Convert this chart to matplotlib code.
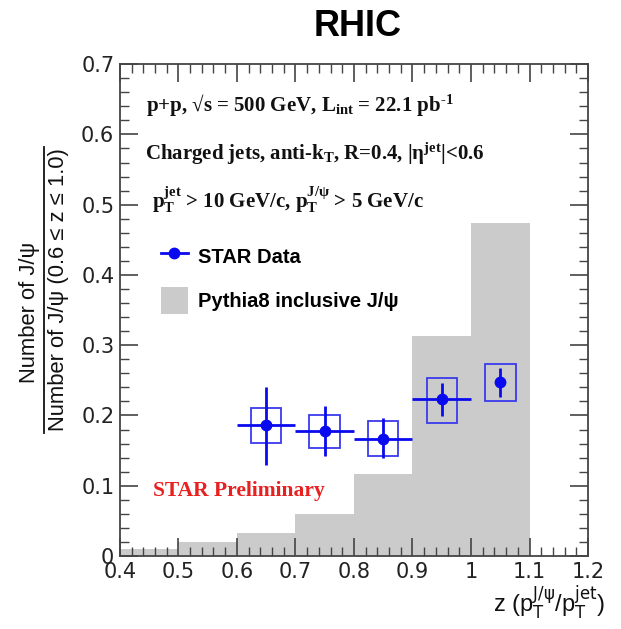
import numpy as np
import matplotlib
matplotlib.use("Agg")
import matplotlib.pyplot as plt
from matplotlib.patches import Rectangle
from matplotlib.lines import Line2D
from matplotlib.ticker import MultipleLocator, FuncFormatter

plt.rcParams['mathtext.fontset'] = 'custom'
plt.rcParams['mathtext.rm'] = 'Liberation Serif:bold'
plt.rcParams['mathtext.it'] = 'Liberation Serif:italic:bold'
plt.rcParams['mathtext.bf'] = 'Liberation Serif:bold'

# pythia8 histogram (bin edges and contents)
pythia_edges = [0.4, 0.5, 0.6, 0.7, 0.8, 0.9, 1.0, 1.1]
pythia_vals = [0.010, 0.020, 0.033, 0.060, 0.117, 0.313, 0.474]

# STAR data
z_pts = [0.65, 0.75, 0.85, 0.95, 1.05]
z_err = [0.05, 0.05, 0.05, 0.05, 0.0]
ratio = [0.186, 0.178, 0.167, 0.223, 0.247]
stat_lo = [0.130, 0.142, 0.139, 0.199, 0.227]
stat_hi = [0.240, 0.213, 0.196, 0.246, 0.267]
sys_lo = [0.161, 0.154, 0.142, 0.190, 0.220]
sys_hi = [0.211, 0.201, 0.192, 0.254, 0.274]

x_ticks = [0.4, 0.5, 0.6, 0.7, 0.8, 0.9, 1.0, 1.1, 1.2]
y_ticks = [0, 0.1, 0.2, 0.3, 0.4, 0.5, 0.6, 0.7]

blue = '#0a0af0'
box_blue = '#3a3aee'
gray = '#cbcbcb'
axis_col = '#444444'

fig = plt.figure(figsize=(6.21, 6.29), dpi=100)
ax = fig.add_axes([0.193, 0.116, 0.754, 0.782])

# histogram
ax.stairs(pythia_vals, pythia_edges, fill=True, color=gray, lw=0)

# systematic boxes
for x, lo, hi in zip(z_pts, sys_lo, sys_hi):
    ax.add_patch(Rectangle((x - 0.026, lo), 0.052, hi - lo, fill=False,
                           edgecolor=box_blue, lw=1.3, zorder=3))

yerr = [np.array(ratio) - np.array(stat_lo), np.array(stat_hi) - np.array(ratio)]
ax.errorbar(z_pts, ratio, xerr=z_err, yerr=yerr, fmt='o', color=blue,
            ms=7.5, lw=2.0, capsize=0, zorder=4)

ax.set_xlim(0.4, 1.2)
ax.set_ylim(0, 0.7)
ax.set_xticks(x_ticks)
ax.set_yticks(y_ticks)
ax.xaxis.set_minor_locator(MultipleLocator(0.02))
ax.yaxis.set_minor_locator(MultipleLocator(0.02))
ax.xaxis.set_major_formatter(FuncFormatter(lambda v, p: '%g' % round(v, 2)))
ax.yaxis.set_major_formatter(FuncFormatter(lambda v, p: '%g' % round(v, 2)))
ax.tick_params(which='both', direction='in', top=True, right=True,
               color=axis_col, labelsize=15, labelcolor='#222222')
ax.tick_params(which='major', length=13, width=1.2, pad=4)
ax.tick_params(which='minor', length=6.5, width=1.0)
for s in ax.spines.values():
    s.set_color(axis_col)
    s.set_linewidth(1.3)

# legend
handles = [Line2D([], [], color=blue, marker='o', ms=7.5, lw=2.0),
           Rectangle((0, 0), 1, 1, facecolor=gray, edgecolor='none')]
ax.legend(handles, ['STAR Data', 'Pythia8 inclusive J/ψ'], loc='upper left',
          bbox_to_anchor=(0.05, 0.674), frameon=False, handlelength=1.3,
          handleheight=1.7, labelspacing=0.85, handletextpad=0.5,
          prop={'family': 'Liberation Sans', 'weight': 'bold', 'size': 14.5})

# annotations
tkw = dict(transform=ax.transAxes, fontsize=15, family='Liberation Serif',
           fontweight='bold', color='#111111')
ax.text(0.055, 0.905, 'p+p, √s = 500 GeV, L$_{\\rm int}$ = 22.1 pb$^{\\rm \u20101}$', **tkw)
ax.text(0.053, 0.805, r'Charged jets, anti-k$_{\rm T}$, R=0.4, |η$^{\rm jet}$|<0.6', **tkw)
ax.text(0.068, 0.707, r'p$_{\rm T}^{\rm jet}$ > 10 GeV/c, p$_{\rm T}^{\rm J/\psi}$ > 5 GeV/c', **tkw)
ax.text(0.07, 0.122, 'STAR Preliminary', transform=ax.transAxes, fontsize=15.5,
        family='Liberation Serif', fontweight='bold', color='#e82020')

# x label
ax.text(1.036, -0.113, r'z (p$_{\rm T}^{\rm J/\psi}$/p$_{\rm T}^{\rm jet}$)',
        transform=ax.transAxes, ha='right', va='baseline', fontsize=17,
        family='Liberation Sans', math_fontfamily='dejavusans', color='#111111')

# y label as a fraction
ylab = dict(rotation=90, ha='center', va='center', fontsize=15.8,
            family='Liberation Sans', color='#111111')
fig.text(29 / 621, 1 - 312 / 629, 'Number of J/ψ', **ylab)
fig.text(59 / 621, 1 - 290 / 629, 'Number of J/ψ (0.6 ≤ z ≤ 1.0)', **ylab)
fig.add_artist(Line2D([44 / 621, 44 / 621], [1 - 147 / 629, 1 - 433 / 629],
                      transform=fig.transFigure, color='#111111', lw=1.3))

# title
fig.text(358 / 621, 1 - 26 / 629, 'RHIC', ha='center', va='center',
         fontsize=26, fontweight='bold', family='Liberation Sans')

fig.savefig('out.png', dpi=100)
